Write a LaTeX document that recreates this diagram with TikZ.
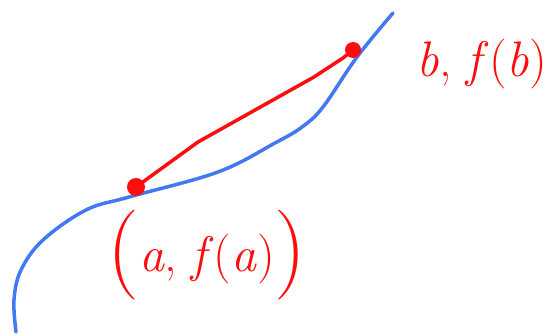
\documentclass[tikz,border=0pt]{standalone}
\definecolor{sketchblue}{rgb}{0.26,0.47,0.95}
\definecolor{sketchred}{rgb}{1,0.05,0.05}
\usepackage{tikz}
\usetikzlibrary{positioning}
\newcommand{\bigparen}[1]{{\fontsize{90}{90}\selectfont\raisebox{-6pt}{#1}}}

\begin{document}
\begin{tikzpicture}[x=1pt, y=-1pt,
    curve/.style={line width=3.5pt, sketchblue, line cap=round, line join=round},
    chord/.style={line width=3.5pt, sketchred, line cap=round, line join=round},
    blob/.style={circle, fill=sketchred, inner sep=0pt},
    hand/.style={sketchred, font=\fontsize{50}{60}\selectfont}]
  \useasboundingbox (0,0) rectangle (559,334);

  % The function f(x)
  \draw[curve] plot[smooth, tension=0.6] coordinates {
    (16,332) (14,300) (21,270) (43,240) (86,210) (129,197)
    (218,172) (275,143) (302,127) (323,107) (357,57) (393,13)};

  % End points of the secant
  \node[blob, minimum size=18pt] (pa) at (136,187) {};
  \node[blob, minimum size=16pt] (pb) at (353,50) {};

  % The secant from a to b
  \draw[chord] (pa.center) -- (198,142) -- (314,77) -- (343,58) -- (pb.center);

  % Labels
  \node[hand] (la) at (207,255) {\bigparen{(}\textit{a}, \textit{f}(\textit{a})\bigparen{)}};
  \node[hand] (lb) at (482,64) {\textit{b}, \textit{f}(\textit{b})};

\end{tikzpicture}
\end{document}
